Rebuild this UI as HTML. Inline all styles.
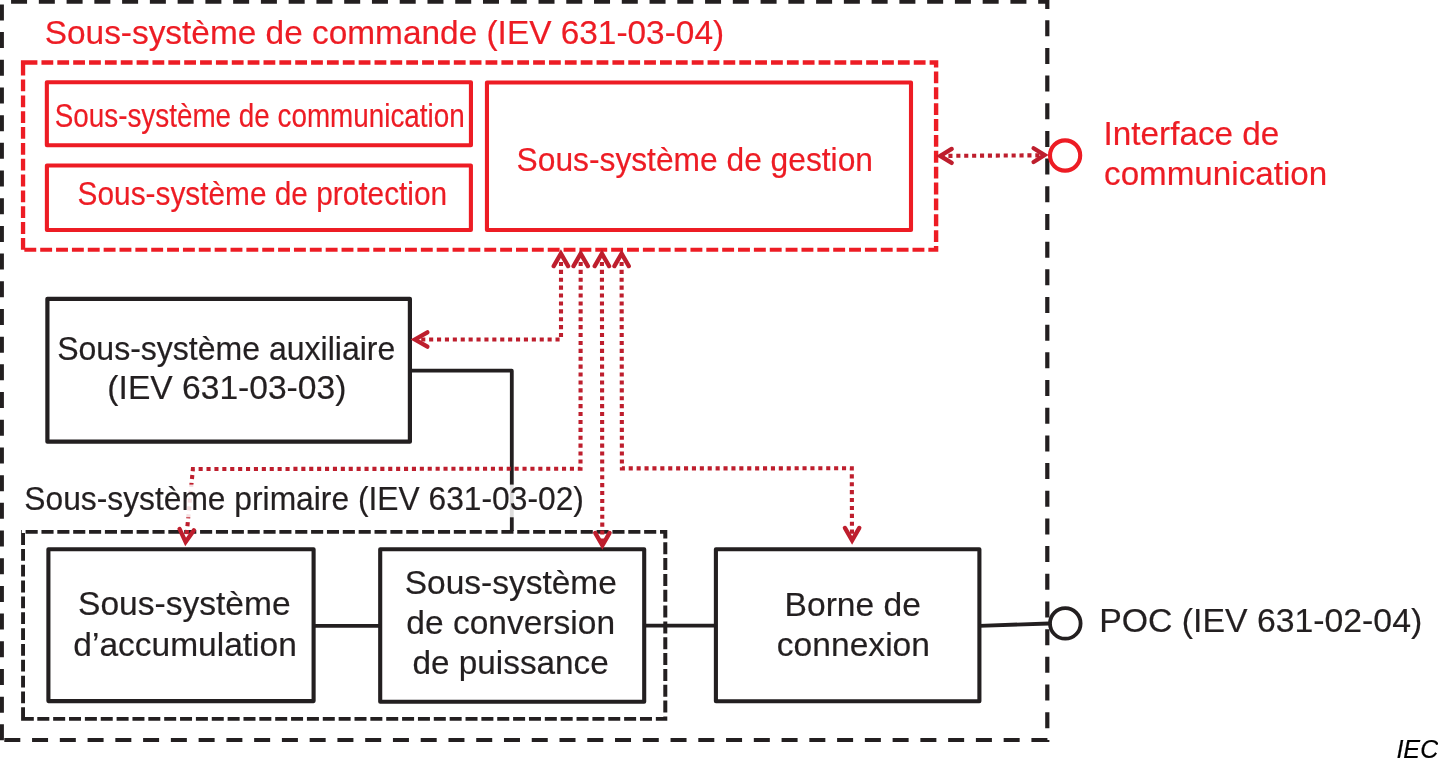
<!DOCTYPE html>
<html><head><meta charset="utf-8"><style>
html,body{margin:0;padding:0;background:#fff;width:1438px;height:766px;overflow:hidden}
svg{display:block;will-change:transform}
text{font-family:"Liberation Sans",sans-serif}
</style></head><body>
<svg width="1438" height="766" viewBox="0 0 1438 766">
<path d="M11.07 0.00H27.07V3.85H11.07ZM38.83 0.00H54.83V3.85H38.83ZM66.59 0.00H82.59V3.85H66.59ZM94.35 0.00H110.35V3.85H94.35ZM122.11 0.00H138.11V3.85H122.11ZM149.87 0.00H165.87V3.85H149.87ZM177.63 0.00H193.63V3.85H177.63ZM205.39 0.00H221.39V3.85H205.39ZM233.15 0.00H249.15V3.85H233.15ZM260.91 0.00H276.91V3.85H260.91ZM288.67 0.00H304.67V3.85H288.67ZM316.43 0.00H332.43V3.85H316.43ZM344.19 0.00H360.19V3.85H344.19ZM371.95 0.00H387.95V3.85H371.95ZM399.71 0.00H415.71V3.85H399.71ZM427.47 0.00H443.47V3.85H427.47ZM455.23 0.00H471.23V3.85H455.23ZM482.99 0.00H498.99V3.85H482.99ZM510.75 0.00H526.75V3.85H510.75ZM538.51 0.00H554.51V3.85H538.51ZM566.27 0.00H582.27V3.85H566.27ZM594.03 0.00H610.03V3.85H594.03ZM621.79 0.00H637.79V3.85H621.79ZM649.55 0.00H665.55V3.85H649.55ZM677.31 0.00H693.31V3.85H677.31ZM705.07 0.00H721.07V3.85H705.07ZM732.83 0.00H748.83V3.85H732.83ZM760.59 0.00H776.59V3.85H760.59ZM788.35 0.00H804.35V3.85H788.35ZM816.11 0.00H832.11V3.85H816.11ZM843.87 0.00H859.87V3.85H843.87ZM871.63 0.00H887.63V3.85H871.63ZM899.39 0.00H915.39V3.85H899.39ZM927.15 0.00H943.15V3.85H927.15ZM954.91 0.00H970.91V3.85H954.91ZM982.67 0.00H998.67V3.85H982.67ZM1010.43 0.00H1026.43V3.85H1010.43ZM1038.19 0.00H1049.40V3.85H1038.19ZM0.00 4.40H3.90V20.40H0.00ZM0.00 32.09H3.90V48.09H0.00ZM0.00 59.78H3.90V75.78H0.00ZM0.00 87.47H3.90V103.47H0.00ZM0.00 115.16H3.90V131.16H0.00ZM0.00 142.85H3.90V158.85H0.00ZM0.00 170.54H3.90V186.54H0.00ZM0.00 198.23H3.90V214.23H0.00ZM0.00 225.92H3.90V241.92H0.00ZM0.00 253.61H3.90V269.61H0.00ZM0.00 281.30H3.90V297.30H0.00ZM0.00 308.99H3.90V324.99H0.00ZM0.00 336.68H3.90V352.68H0.00ZM0.00 364.37H3.90V380.37H0.00ZM0.00 392.06H3.90V408.06H0.00ZM0.00 419.75H3.90V435.75H0.00ZM0.00 447.44H3.90V463.44H0.00ZM0.00 475.13H3.90V491.13H0.00ZM0.00 502.82H3.90V518.82H0.00ZM0.00 530.51H3.90V546.51H0.00ZM0.00 558.20H3.90V574.20H0.00ZM0.00 585.89H3.90V601.89H0.00ZM0.00 613.58H3.90V629.58H0.00ZM0.00 641.27H3.90V657.27H0.00ZM0.00 668.96H3.90V684.96H0.00ZM0.00 696.65H3.90V712.65H0.00ZM0.00 724.34H3.90V740.34H0.00ZM1045.20 0.00H1049.40V8.52H1045.20ZM1045.20 20.20H1049.40V36.20H1045.20ZM1045.20 47.88H1049.40V63.88H1045.20ZM1045.20 75.56H1049.40V91.56H1045.20ZM1045.20 103.24H1049.40V119.24H1045.20ZM1045.20 130.92H1049.40V146.92H1045.20ZM1045.20 158.60H1049.40V174.60H1045.20ZM1045.20 186.28H1049.40V202.28H1045.20ZM1045.20 213.96H1049.40V229.96H1045.20ZM1045.20 241.64H1049.40V257.64H1045.20ZM1045.20 269.32H1049.40V285.32H1045.20ZM1045.20 297.00H1049.40V313.00H1045.20ZM1045.20 324.68H1049.40V340.68H1045.20ZM1045.20 352.36H1049.40V368.36H1045.20ZM1045.20 380.04H1049.40V396.04H1045.20ZM1045.20 407.72H1049.40V423.72H1045.20ZM1045.20 435.40H1049.40V451.40H1045.20ZM1045.20 463.08H1049.40V479.08H1045.20ZM1045.20 490.76H1049.40V506.76H1045.20ZM1045.20 518.44H1049.40V534.44H1045.20ZM1045.20 546.12H1049.40V562.12H1045.20ZM1045.20 573.80H1049.40V589.80H1045.20ZM1045.20 601.48H1049.40V617.48H1045.20ZM1045.20 629.16H1049.40V645.16H1045.20ZM1045.20 656.84H1049.40V672.84H1045.20ZM1045.20 684.52H1049.40V700.52H1045.20ZM1045.20 712.20H1049.40V728.20H1045.20ZM1045.20 739.88H1049.40V742.00H1045.20ZM1045.2 0H1049.4V8.9H1045.2ZM4.30 737.90H20.30V741.90H4.30ZM32.06 737.90H48.06V741.90H32.06ZM59.82 737.90H75.82V741.90H59.82ZM87.58 737.90H103.58V741.90H87.58ZM115.34 737.90H131.34V741.90H115.34ZM143.10 737.90H159.10V741.90H143.10ZM170.86 737.90H186.86V741.90H170.86ZM198.62 737.90H214.62V741.90H198.62ZM226.38 737.90H242.38V741.90H226.38ZM254.14 737.90H270.14V741.90H254.14ZM281.90 737.90H297.90V741.90H281.90ZM309.66 737.90H325.66V741.90H309.66ZM337.42 737.90H353.42V741.90H337.42ZM365.18 737.90H381.18V741.90H365.18ZM392.94 737.90H408.94V741.90H392.94ZM420.70 737.90H436.70V741.90H420.70ZM448.46 737.90H464.46V741.90H448.46ZM476.22 737.90H492.22V741.90H476.22ZM503.98 737.90H519.98V741.90H503.98ZM531.74 737.90H547.74V741.90H531.74ZM559.50 737.90H575.50V741.90H559.50ZM587.26 737.90H603.26V741.90H587.26ZM615.02 737.90H631.02V741.90H615.02ZM642.78 737.90H658.78V741.90H642.78ZM670.54 737.90H686.54V741.90H670.54ZM698.30 737.90H714.30V741.90H698.30ZM726.06 737.90H742.06V741.90H726.06ZM753.82 737.90H769.82V741.90H753.82ZM781.58 737.90H797.58V741.90H781.58ZM809.34 737.90H825.34V741.90H809.34ZM837.10 737.90H853.10V741.90H837.10ZM864.86 737.90H880.86V741.90H864.86ZM892.62 737.90H908.62V741.90H892.62ZM920.38 737.90H936.38V741.90H920.38ZM948.14 737.90H964.14V741.90H948.14ZM975.90 737.90H991.90V741.90H975.90ZM1003.66 737.90H1019.66V741.90H1003.66ZM1031.42 737.90H1047.42V741.90H1031.42Z" fill="#231f20"/>
<path d="M20.90 60.20H21.54V64.70H20.90ZM25.60 60.20H37.40V64.70H25.60ZM41.46 60.20H53.26V64.70H41.46ZM57.32 60.20H69.12V64.70H57.32ZM73.18 60.20H84.98V64.70H73.18ZM89.04 60.20H100.84V64.70H89.04ZM104.90 60.20H116.70V64.70H104.90ZM120.76 60.20H132.56V64.70H120.76ZM136.62 60.20H148.42V64.70H136.62ZM152.48 60.20H164.28V64.70H152.48ZM168.34 60.20H180.14V64.70H168.34ZM184.20 60.20H196.00V64.70H184.20ZM200.06 60.20H211.86V64.70H200.06ZM215.92 60.20H227.72V64.70H215.92ZM231.78 60.20H243.58V64.70H231.78ZM247.64 60.20H259.44V64.70H247.64ZM263.50 60.20H275.30V64.70H263.50ZM279.36 60.20H291.16V64.70H279.36ZM295.22 60.20H307.02V64.70H295.22ZM311.08 60.20H322.88V64.70H311.08ZM326.94 60.20H338.74V64.70H326.94ZM342.80 60.20H354.60V64.70H342.80ZM358.66 60.20H370.46V64.70H358.66ZM374.52 60.20H386.32V64.70H374.52ZM390.38 60.20H402.18V64.70H390.38ZM406.24 60.20H418.04V64.70H406.24ZM422.10 60.20H433.90V64.70H422.10ZM437.96 60.20H449.76V64.70H437.96ZM453.82 60.20H465.62V64.70H453.82ZM469.68 60.20H481.48V64.70H469.68ZM485.54 60.20H497.34V64.70H485.54ZM501.40 60.20H513.20V64.70H501.40ZM517.26 60.20H529.06V64.70H517.26ZM533.12 60.20H544.92V64.70H533.12ZM548.98 60.20H560.78V64.70H548.98ZM564.84 60.20H576.64V64.70H564.84ZM580.70 60.20H592.50V64.70H580.70ZM596.56 60.20H608.36V64.70H596.56ZM612.42 60.20H624.22V64.70H612.42ZM628.28 60.20H640.08V64.70H628.28ZM644.14 60.20H655.94V64.70H644.14ZM660.00 60.20H671.80V64.70H660.00ZM675.86 60.20H687.66V64.70H675.86ZM691.72 60.20H703.52V64.70H691.72ZM707.58 60.20H719.38V64.70H707.58ZM723.44 60.20H735.24V64.70H723.44ZM739.30 60.20H751.10V64.70H739.30ZM755.16 60.20H766.96V64.70H755.16ZM771.02 60.20H782.82V64.70H771.02ZM786.88 60.20H798.68V64.70H786.88ZM802.74 60.20H814.54V64.70H802.74ZM818.60 60.20H830.40V64.70H818.60ZM834.46 60.20H846.26V64.70H834.46ZM850.32 60.20H862.12V64.70H850.32ZM866.18 60.20H877.98V64.70H866.18ZM882.04 60.20H893.84V64.70H882.04ZM897.90 60.20H909.70V64.70H897.90ZM913.76 60.20H925.56V64.70H913.76ZM929.62 60.20H938.30V64.70H929.62ZM20.90 63.70H25.20V75.50H20.90ZM20.90 79.54H25.20V91.34H20.90ZM20.90 95.38H25.20V107.18H20.90ZM20.90 111.22H25.20V123.02H20.90ZM20.90 127.06H25.20V138.86H20.90ZM20.90 142.90H25.20V154.70H20.90ZM20.90 158.74H25.20V170.54H20.90ZM20.90 174.58H25.20V186.38H20.90ZM20.90 190.42H25.20V202.22H20.90ZM20.90 206.26H25.20V218.06H20.90ZM20.90 222.10H25.20V233.90H20.90ZM20.90 237.94H25.20V249.74H20.90ZM20.9 60.2H25.6V64.7H20.9ZM933.90 60.20H938.30V67.43H933.90ZM933.90 71.50H938.30V83.30H933.90ZM933.90 87.37H938.30V99.17H933.90ZM933.90 103.24H938.30V115.04H933.90ZM933.90 119.11H938.30V130.91H933.90ZM933.90 134.98H938.30V146.78H933.90ZM933.90 150.85H938.30V162.65H933.90ZM933.90 166.72H938.30V178.52H933.90ZM933.90 182.59H938.30V194.39H933.90ZM933.90 198.46H938.30V210.26H933.90ZM933.90 214.33H938.30V226.13H933.90ZM933.90 230.20H938.30V242.00H933.90ZM933.90 246.07H938.30V251.80H933.90ZM24.34 247.80H36.24V251.80H24.34ZM40.20 247.80H52.10V251.80H40.20ZM56.06 247.80H67.96V251.80H56.06ZM71.92 247.80H83.82V251.80H71.92ZM87.78 247.80H99.68V251.80H87.78ZM103.64 247.80H115.54V251.80H103.64ZM119.50 247.80H131.40V251.80H119.50ZM135.36 247.80H147.26V251.80H135.36ZM151.22 247.80H163.12V251.80H151.22ZM167.08 247.80H178.98V251.80H167.08ZM182.94 247.80H194.84V251.80H182.94ZM198.80 247.80H210.70V251.80H198.80ZM214.66 247.80H226.56V251.80H214.66ZM230.52 247.80H242.42V251.80H230.52ZM246.38 247.80H258.28V251.80H246.38ZM262.24 247.80H274.14V251.80H262.24ZM278.10 247.80H290.00V251.80H278.10ZM293.96 247.80H305.86V251.80H293.96ZM309.82 247.80H321.72V251.80H309.82ZM325.68 247.80H337.58V251.80H325.68ZM341.54 247.80H353.44V251.80H341.54ZM357.40 247.80H369.30V251.80H357.40ZM373.26 247.80H385.16V251.80H373.26ZM389.12 247.80H401.02V251.80H389.12ZM404.98 247.80H416.88V251.80H404.98ZM420.84 247.80H432.74V251.80H420.84ZM436.70 247.80H448.60V251.80H436.70ZM452.56 247.80H464.46V251.80H452.56ZM468.42 247.80H480.32V251.80H468.42ZM484.28 247.80H496.18V251.80H484.28ZM500.14 247.80H512.04V251.80H500.14ZM516.00 247.80H527.90V251.80H516.00ZM531.86 247.80H543.76V251.80H531.86ZM547.72 247.80H559.62V251.80H547.72ZM563.58 247.80H575.48V251.80H563.58ZM579.44 247.80H591.34V251.80H579.44ZM595.30 247.80H607.20V251.80H595.30ZM611.16 247.80H623.06V251.80H611.16ZM627.02 247.80H638.92V251.80H627.02ZM642.88 247.80H654.78V251.80H642.88ZM658.74 247.80H670.64V251.80H658.74ZM674.60 247.80H686.50V251.80H674.60ZM690.46 247.80H702.36V251.80H690.46ZM706.32 247.80H718.22V251.80H706.32ZM722.18 247.80H734.08V251.80H722.18ZM738.04 247.80H749.94V251.80H738.04ZM753.90 247.80H765.80V251.80H753.90ZM769.76 247.80H781.66V251.80H769.76ZM785.62 247.80H797.52V251.80H785.62ZM801.48 247.80H813.38V251.80H801.48ZM817.34 247.80H829.24V251.80H817.34ZM833.20 247.80H845.10V251.80H833.20ZM849.06 247.80H860.96V251.80H849.06ZM864.92 247.80H876.82V251.80H864.92ZM880.78 247.80H892.68V251.80H880.78ZM896.64 247.80H908.54V251.80H896.64ZM912.50 247.80H924.40V251.80H912.50ZM928.36 247.80H938.30V251.80H928.36Z" fill="#ed1c24"/>
<path d="M21.10 529.90H21.84V533.80H21.10ZM25.60 529.90H37.70V533.80H25.60ZM41.46 529.90H53.56V533.80H41.46ZM57.32 529.90H69.42V533.80H57.32ZM73.18 529.90H85.28V533.80H73.18ZM89.04 529.90H101.14V533.80H89.04ZM104.90 529.90H117.00V533.80H104.90ZM120.76 529.90H132.86V533.80H120.76ZM136.62 529.90H148.72V533.80H136.62ZM152.48 529.90H164.58V533.80H152.48ZM168.34 529.90H180.44V533.80H168.34ZM184.20 529.90H196.30V533.80H184.20ZM200.06 529.90H212.16V533.80H200.06ZM215.92 529.90H228.02V533.80H215.92ZM231.78 529.90H243.88V533.80H231.78ZM247.64 529.90H259.74V533.80H247.64ZM263.50 529.90H275.60V533.80H263.50ZM279.36 529.90H291.46V533.80H279.36ZM295.22 529.90H307.32V533.80H295.22ZM311.08 529.90H323.18V533.80H311.08ZM326.94 529.90H339.04V533.80H326.94ZM342.80 529.90H354.90V533.80H342.80ZM358.66 529.90H370.76V533.80H358.66ZM374.52 529.90H386.62V533.80H374.52ZM390.38 529.90H402.48V533.80H390.38ZM406.24 529.90H418.34V533.80H406.24ZM422.10 529.90H434.20V533.80H422.10ZM437.96 529.90H450.06V533.80H437.96ZM453.82 529.90H465.92V533.80H453.82ZM469.68 529.90H481.78V533.80H469.68ZM485.54 529.90H497.64V533.80H485.54ZM501.40 529.90H513.50V533.80H501.40ZM517.26 529.90H529.36V533.80H517.26ZM533.12 529.90H545.22V533.80H533.12ZM548.98 529.90H561.08V533.80H548.98ZM564.84 529.90H576.94V533.80H564.84ZM580.70 529.90H592.80V533.80H580.70ZM596.56 529.90H608.66V533.80H596.56ZM612.42 529.90H624.52V533.80H612.42ZM628.28 529.90H640.38V533.80H628.28ZM644.14 529.90H656.24V533.80H644.14ZM660.00 529.90H667.30V533.80H660.00ZM21.10 533.10H25.00V544.90H21.10ZM21.10 548.94H25.00V560.74H21.10ZM21.10 564.78H25.00V576.58H21.10ZM21.10 580.62H25.00V592.42H21.10ZM21.10 596.46H25.00V608.26H21.10ZM21.10 612.30H25.00V624.10H21.10ZM21.10 628.14H25.00V639.94H21.10ZM21.10 643.98H25.00V655.78H21.10ZM21.10 659.82H25.00V671.62H21.10ZM21.10 675.66H25.00V687.46H21.10ZM21.10 691.50H25.00V703.30H21.10ZM21.10 707.34H25.00V719.14H21.10ZM663.30 529.90H667.30V538.36H663.30ZM663.30 542.20H667.30V554.20H663.30ZM663.30 558.04H667.30V570.04H663.30ZM663.30 573.88H667.30V585.88H663.30ZM663.30 589.72H667.30V601.72H663.30ZM663.30 605.56H667.30V617.56H663.30ZM663.30 621.40H667.30V633.40H663.30ZM663.30 637.24H667.30V649.24H663.30ZM663.30 653.08H667.30V665.08H663.30ZM663.30 668.92H667.30V680.92H663.30ZM663.30 684.76H667.30V696.76H663.30ZM663.30 700.60H667.30V712.60H663.30ZM663.30 716.44H667.30V720.80H663.30ZM663.3 529.9H667.3V538.6H663.3ZM21.44 716.90H33.44V720.80H21.44ZM37.30 716.90H49.30V720.80H37.30ZM53.16 716.90H65.16V720.80H53.16ZM69.02 716.90H81.02V720.80H69.02ZM84.88 716.90H96.88V720.80H84.88ZM100.74 716.90H112.74V720.80H100.74ZM116.60 716.90H128.60V720.80H116.60ZM132.46 716.90H144.46V720.80H132.46ZM148.32 716.90H160.32V720.80H148.32ZM164.18 716.90H176.18V720.80H164.18ZM180.04 716.90H192.04V720.80H180.04ZM195.90 716.90H207.90V720.80H195.90ZM211.76 716.90H223.76V720.80H211.76ZM227.62 716.90H239.62V720.80H227.62ZM243.48 716.90H255.48V720.80H243.48ZM259.34 716.90H271.34V720.80H259.34ZM275.20 716.90H287.20V720.80H275.20ZM291.06 716.90H303.06V720.80H291.06ZM306.92 716.90H318.92V720.80H306.92ZM322.78 716.90H334.78V720.80H322.78ZM338.64 716.90H350.64V720.80H338.64ZM354.50 716.90H366.50V720.80H354.50ZM370.36 716.90H382.36V720.80H370.36ZM386.22 716.90H398.22V720.80H386.22ZM402.08 716.90H414.08V720.80H402.08ZM417.94 716.90H429.94V720.80H417.94ZM433.80 716.90H445.80V720.80H433.80ZM449.66 716.90H461.66V720.80H449.66ZM465.52 716.90H477.52V720.80H465.52ZM481.38 716.90H493.38V720.80H481.38ZM497.24 716.90H509.24V720.80H497.24ZM513.10 716.90H525.10V720.80H513.10ZM528.96 716.90H540.96V720.80H528.96ZM544.82 716.90H556.82V720.80H544.82ZM560.68 716.90H572.68V720.80H560.68ZM576.54 716.90H588.54V720.80H576.54ZM592.40 716.90H604.40V720.80H592.40ZM608.26 716.90H620.26V720.80H608.26ZM624.12 716.90H636.12V720.80H624.12ZM639.98 716.90H651.98V720.80H639.98ZM655.84 716.90H667.30V720.80H655.84ZM21.1 716.9H33.8V720.8H21.1Z" fill="#231f20"/>
<rect x="46.85" y="82.3" width="424.10" height="63.00" fill="none" stroke="#ed1c24" stroke-width="4.1" stroke-linejoin="round"/>
<rect x="46.9" y="165.5" width="424.00" height="64.50" fill="none" stroke="#ed1c24" stroke-width="4.1" stroke-linejoin="round"/>
<rect x="486.95" y="82.5" width="424.05" height="147.50" fill="none" stroke="#ed1c24" stroke-width="4.1" stroke-linejoin="round"/>
<rect x="47.4" y="298.8" width="362.50" height="142.90" fill="none" stroke="#231f20" stroke-width="4.2" stroke-linejoin="round"/>
<rect x="48.4" y="549.3" width="265.20" height="151.80" fill="none" stroke="#231f20" stroke-width="4.1" stroke-linejoin="round"/>
<rect x="380.2" y="549.3" width="264.00" height="152.50" fill="none" stroke="#231f20" stroke-width="4.1" stroke-linejoin="round"/>
<rect x="715.9" y="549.2" width="263.50" height="152.00" fill="none" stroke="#231f20" stroke-width="4.1" stroke-linejoin="round"/>
<polyline points="409.9,370.7 511.8,370.7 511.8,531" fill="none" stroke="#231f20" stroke-width="3.8" stroke-linejoin="round"/>
<line x1="313.6" y1="625.8" x2="380.2" y2="625.8" stroke="#231f20" stroke-width="3.8"/>
<line x1="644.2" y1="625.6" x2="715.9" y2="625.6" stroke="#231f20" stroke-width="3.8"/>
<line x1="979.4" y1="625.8" x2="1049" y2="623.5" stroke="#231f20" stroke-width="3.8"/>
<circle cx="1065.3" cy="623.4" r="15.3" fill="none" stroke="#231f20" stroke-width="3.8"/>
<circle cx="1065.1" cy="155.5" r="15.1" fill="none" stroke="#ed1c24" stroke-width="4.1"/>
<polyline points="940.5,155.9 1044.5,155.3" fill="none" stroke="#be1e2d" stroke-width="4.1" stroke-dasharray="4.1 3.8" stroke-dashoffset="0"/>
<polyline points="951.70,148.90 940.20,155.90 951.70,162.90" fill="none" stroke="#be1e2d" stroke-width="4.3" stroke-linecap="round" stroke-miterlimit="10"/>
<polyline points="1033.60,162.00 1044.60,155.10 1033.60,148.20" fill="none" stroke="#be1e2d" stroke-width="4.3" stroke-linecap="round" stroke-miterlimit="10"/>
<polyline points="561,254 561,339.5 415,339.5" fill="none" stroke="#be1e2d" stroke-width="4.1" stroke-dasharray="4.1 3.8" stroke-dashoffset="0"/>
<polyline points="568.10,266.10 560.90,253.60 553.70,266.10" fill="none" stroke="#be1e2d" stroke-width="4.3" stroke-linecap="round" stroke-miterlimit="10"/>
<polyline points="427.40,332.30 414.90,339.50 427.40,346.70" fill="none" stroke="#be1e2d" stroke-width="4.3" stroke-linecap="round" stroke-miterlimit="10"/>
<polyline points="580.7,254 580.5,468.7 192.9,469 185.9,542" fill="none" stroke="#be1e2d" stroke-width="4.1" stroke-dasharray="4.1 3.8" stroke-dashoffset="0"/>
<polyline points="587.90,266.10 580.70,253.60 573.50,266.10" fill="none" stroke="#be1e2d" stroke-width="4.3" stroke-linecap="round" stroke-miterlimit="10"/>
<polyline points="179.55,528.90 185.60,542.00 193.89,530.20" fill="none" stroke="#be1e2d" stroke-width="4.3" stroke-linecap="round" stroke-miterlimit="10"/>
<polyline points="601.9,254 602.3,545" fill="none" stroke="#be1e2d" stroke-width="4.1" stroke-dasharray="4.1 3.8" stroke-dashoffset="0"/>
<polyline points="609.10,266.10 601.90,253.60 594.70,266.10" fill="none" stroke="#be1e2d" stroke-width="4.3" stroke-linecap="round" stroke-miterlimit="10"/>
<polyline points="595.20,532.90 602.40,545.40 609.60,532.90" fill="none" stroke="#be1e2d" stroke-width="4.3" stroke-linecap="round" stroke-miterlimit="10"/>
<polyline points="621.6,254 621.9,468.4 851.8,468.3 852,540" fill="none" stroke="#be1e2d" stroke-width="4.1" stroke-dasharray="4.1 3.8" stroke-dashoffset="0"/>
<polyline points="628.80,266.10 621.60,253.60 614.40,266.10" fill="none" stroke="#be1e2d" stroke-width="4.3" stroke-linecap="round" stroke-miterlimit="10"/>
<polyline points="844.90,527.90 852.10,540.40 859.30,527.90" fill="none" stroke="#be1e2d" stroke-width="4.3" stroke-linecap="round" stroke-miterlimit="10"/>
<rect x="24" y="484.6" width="560" height="32.7" fill="#fff" fill-opacity="0.85"/>
<text x="44.73" y="44.40" font-size="33.3" fill="#ed1c24" stroke="#ed1c24" stroke-width="0.2" textLength="679.37" lengthAdjust="spacingAndGlyphs">Sous-système de commande (IEV 631-03-04)</text>
<text x="54.71" y="126.90" font-size="33.3" fill="#ed1c24" stroke="#ed1c24" stroke-width="0.2" textLength="410.00" lengthAdjust="spacingAndGlyphs">Sous-système de communication</text>
<text x="77.61" y="204.60" font-size="33.0" fill="#ed1c24" stroke="#ed1c24" stroke-width="0.2" textLength="369.53" lengthAdjust="spacingAndGlyphs">Sous-système de protection</text>
<text x="516.61" y="170.80" font-size="33.0" fill="#ed1c24" stroke="#ed1c24" stroke-width="0.2" textLength="356.35" lengthAdjust="spacingAndGlyphs">Sous-système de gestion</text>
<text x="1103.60" y="144.90" font-size="34.0" fill="#ed1c24" stroke="#ed1c24" stroke-width="0.2" textLength="175.77" lengthAdjust="spacingAndGlyphs">Interface de</text>
<text x="1104.07" y="184.70" font-size="34.0" fill="#ed1c24" stroke="#ed1c24" stroke-width="0.2" textLength="223.09" lengthAdjust="spacingAndGlyphs">communication</text>
<text x="57.20" y="359.50" font-size="33.3" fill="#231f20" stroke="#231f20" stroke-width="0.2" textLength="338.09" lengthAdjust="spacingAndGlyphs">Sous-système auxiliaire</text>
<text x="107.38" y="399.00" font-size="33.3" fill="#231f20" stroke="#231f20" stroke-width="0.2" textLength="238.99" lengthAdjust="spacingAndGlyphs">(IEV 631-03-03)</text>
<text x="24.31" y="509.60" font-size="33.5" fill="#231f20" stroke="#231f20" stroke-width="0.2" textLength="559.62" lengthAdjust="spacingAndGlyphs">Sous-système primaire (IEV 631-03-02)</text>
<text x="78.02" y="615.10" font-size="33.0" fill="#231f20" stroke="#231f20" stroke-width="0.2" textLength="212.60" lengthAdjust="spacingAndGlyphs">Sous-système</text>
<text x="73.36" y="655.70" font-size="33.0" fill="#231f20" stroke="#231f20" stroke-width="0.2" textLength="223.47" lengthAdjust="spacingAndGlyphs">d’accumulation</text>
<text x="404.73" y="593.80" font-size="33.3" fill="#231f20" stroke="#231f20" stroke-width="0.2" textLength="212.10" lengthAdjust="spacingAndGlyphs">Sous-système</text>
<text x="406.36" y="633.90" font-size="33.3" fill="#231f20" stroke="#231f20" stroke-width="0.2" textLength="208.66" lengthAdjust="spacingAndGlyphs">de conversion</text>
<text x="412.57" y="674.00" font-size="33.3" fill="#231f20" stroke="#231f20" stroke-width="0.2" textLength="196.17" lengthAdjust="spacingAndGlyphs">de puissance</text>
<text x="784.62" y="616.10" font-size="34.0" fill="#231f20" stroke="#231f20" stroke-width="0.2" textLength="136.22" lengthAdjust="spacingAndGlyphs">Borne de</text>
<text x="776.76" y="655.70" font-size="34.0" fill="#231f20" stroke="#231f20" stroke-width="0.2" textLength="153.27" lengthAdjust="spacingAndGlyphs">connexion</text>
<text x="1099.20" y="631.70" font-size="33.8" fill="#231f20" stroke="#231f20" stroke-width="0.2" textLength="323.02" lengthAdjust="spacingAndGlyphs">POC (IEV 631-02-04)</text>
<text x="1396.39" y="757.70" font-size="25.6" fill="#000" stroke="#000" stroke-width="0.2" textLength="41.93" lengthAdjust="spacingAndGlyphs" font-style="italic">IEC</text>
</svg>
</body></html>
